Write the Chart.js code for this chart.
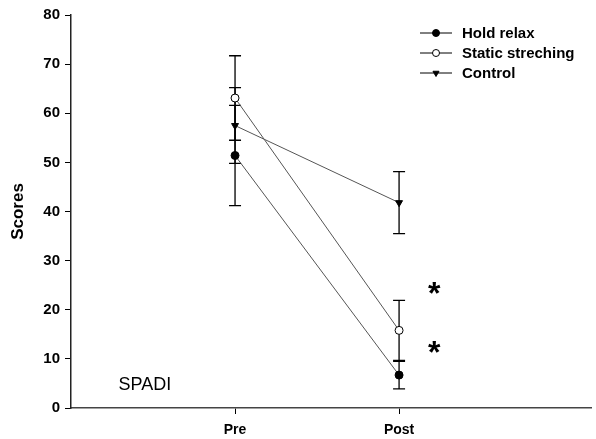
<!DOCTYPE html>
<html>
<head>
<meta charset="utf-8">
<script src="https://cdn.jsdelivr.net/npm/chart.js@4/dist/chart.umd.min.js"></script>
<style>
    body { margin: 0; background: #fff; }
    #wrap { width: 596px; height: 439px; }
</style>
</head>
<body>
<div id="wrap"><canvas id="spadiChart" width="596" height="439"></canvas></div>
<script>
// categories and their positions on the x scale
const categories = ["Pre", "Post"];
const catPos = [1, 2];
const yTicks = [0, 10, 20, 30, 40, 50, 60, 70, 80];

// series means and error bar (SD) values
const seriesNames = ["Hold relax", "Static streching", "Control"];
const holdRelax = [51.4, 6.7];
const holdRelaxErr = [10.2, 2.8];
const staticStretch = [63.1, 15.8];
const staticStretchErr = [8.6, 6.1];
const control = [57.5, 41.8];
const controlErr = [7.7, 6.3];

// significance marks (x, y in data units)
const starX = [2.215, 2.215];
const starY = [23.8, 11.8];

const FONT = "'Liberation Sans', Arial, sans-serif";

function toPoints(vals) {
    return vals.map((v, i) => ({ x: catPos[i], y: v }));
}

const seriesErr = [holdRelaxErr, staticStretchErr, controlErr];

const errorBars = {
    id: "errorBars",
    beforeDatasetsDraw(chart) {
        const ctx = chart.ctx;
        const xs = chart.scales.x;
        const ys = chart.scales.y;
        ctx.save();
        ctx.strokeStyle = "#000";
        ctx.lineWidth = 1.3;
        chart.data.datasets.forEach((ds, d) => {
            ds.data.forEach((p, i) => {
                const e = seriesErr[d][i];
                const px = xs.getPixelForValue(p.x);
                const top = ys.getPixelForValue(p.y + e);
                const bot = ys.getPixelForValue(p.y - e);
                ctx.beginPath();
                ctx.moveTo(px, top); ctx.lineTo(px, bot);
                ctx.moveTo(px - 6, top); ctx.lineTo(px + 6, top);
                ctx.moveTo(px - 6, bot); ctx.lineTo(px + 6, bot);
                ctx.stroke();
            });
        });
        ctx.restore();
    }
};

const extras = {
    id: "extras",
    afterDraw(chart) {
        const ctx = chart.ctx;
        const xs = chart.scales.x;
        const ys = chart.scales.y;
        ctx.save();

        // asterisks
        ctx.fillStyle = "#000";
        ctx.font = "bold 32px " + FONT;
        ctx.textAlign = "center";
        ctx.textBaseline = "alphabetic";
        starX.forEach((sx, i) => {
            ctx.fillText("*", xs.getPixelForValue(sx), ys.getPixelForValue(starY[i]) + 13);
        });

        // panel label
        ctx.font = "18px " + FONT;
        ctx.textAlign = "left";
        ctx.textBaseline = "middle";
        ctx.fillText("SPADI", xs.getPixelForValue(0.29), ys.getPixelForValue(4.7));

        // legend
        ctx.font = "bold 15px " + FONT;
        chart.data.datasets.forEach((ds, i) => {
            const y = 33 + i * 20;
            ctx.strokeStyle = "#000";
            ctx.lineWidth = 1;
            ctx.beginPath();
            ctx.moveTo(420, y); ctx.lineTo(452, y);
            ctx.stroke();
            ctx.fillStyle = ds.pointBackgroundColor;
            ctx.strokeStyle = "#000";
            Chart.helpers.drawPoint(ctx, {
                pointStyle: ds.pointStyle,
                radius: 3.5,
                rotation: ds.pointRotation || 0,
                borderWidth: 1
            }, 436, y);
            ctx.fillStyle = "#000";
            ctx.fillText(ds.label, 462, y + 1);
        });
        ctx.restore();
    }
};

function series(label, vals, style, bg, rot) {
    return {
        label: label,
        data: toPoints(vals),
        borderColor: "#555",
        borderWidth: 1,
        pointStyle: style,
        pointRotation: rot || 0,
        pointRadius: 4,
        pointBackgroundColor: bg,
        pointBorderColor: "#000",
        pointBorderWidth: 1,
        fill: false,
        tension: 0
    };
}

new Chart(document.getElementById("spadiChart"), {
    type: "line",
    data: {
        datasets: [
            series(seriesNames[0], holdRelax, "circle", "#000"),
            series(seriesNames[1], staticStretch, "circle", "#fff"),
            series(seriesNames[2], control, "triangle", "#000", 180)
        ]
    },
    options: {
        responsive: false,
        animation: false,
        layout: { padding: { top: 15, right: 0, left: 0, bottom: 0 } },
        plugins: {
            legend: { display: false },
            tooltip: { enabled: false }
        },
        scales: {
            x: {
                type: "linear",
                min: 0,
                max: 3.17,
                afterBuildTicks(scale) {
                    scale.ticks = catPos.map(v => ({ value: v }));
                },
                afterFit(scale) { scale.height = 31; },
                ticks: {
                    callback: (v) => categories[catPos.indexOf(v)],
                    color: "#000",
                    font: { family: FONT, size: 14, weight: "bold" },
                    padding: 8,
                    maxRotation: 0
                },
                grid: { drawOnChartArea: false, tickLength: 6, tickColor: "#000" },
                border: { color: "#444", width: 1.5 }
            },
            y: {
                min: 0,
                max: 80,
                afterBuildTicks(scale) {
                    scale.ticks = yTicks.map(v => ({ value: v }));
                },
                afterFit(scale) { scale.width = 71; },
                ticks: {
                    color: "#000",
                    font: { family: FONT, size: 15, weight: "bold" },
                    padding: 5
                },
                grid: { drawOnChartArea: false, tickLength: 6, tickColor: "#000" },
                border: { color: "#222", width: 1.5 },
                title: {
                    display: true,
                    text: "Scores",
                    color: "#000",
                    font: { family: FONT, size: 17, weight: "bold" },
                    padding: { top: 8, bottom: 0 }
                }
            }
        }
    },
    plugins: [errorBars, extras]
});
</script>
</body>
</html>
